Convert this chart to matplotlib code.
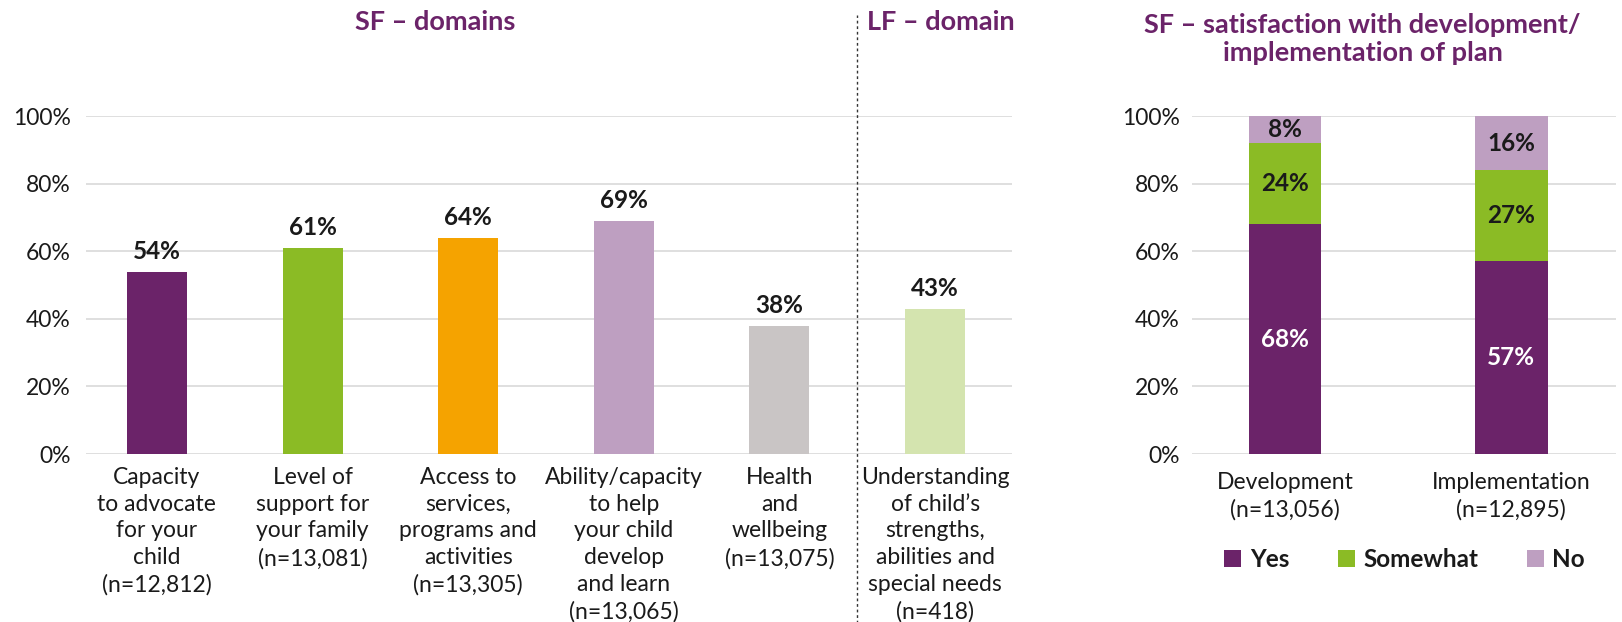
import matplotlib
matplotlib.use("Agg")
import matplotlib.pyplot as plt
from matplotlib.patches import Patch

plt.rcParams["font.family"] = ["Lato", "DejaVu Sans"]

# --- data ---
domain_labels = [
    "Capacity\nto advocate\nfor your\nchild\n(n=12,812)",
    "Level of\nsupport for\nyour family\n(n=13,081)",
    "Access to\nservices,\nprograms and\nactivities\n(n=13,305)",
    "Ability/capacity\nto help\nyour child\ndevelop\nand learn\n(n=13,065)",
    "Health\nand\nwellbeing\n(n=13,075)",
    "Understanding\nof child\u2019s\nstrengths,\nabilities and\nspecial needs\n(n=418)",
]
domain_values = [54, 61, 64, 69, 38, 43]
domain_colors = ["#6b2369", "#8bbb25", "#f5a300", "#be9fc1", "#c9c5c5", "#d4e4af"]

plan_labels = ["Development\n(n=13,056)", "Implementation\n(n=12,895)"]
plan_series = ["Yes", "Somewhat", "No"]
plan_yes = [68, 57]
plan_somewhat = [24, 27]
plan_no = [8, 16]
plan_colors = ["#6b2369", "#8bbb25", "#be9fc1"]

PURPLE = "#6b2369"
TEXT = "#1a1a1a"
GRID = "#d9d9d9"
FS = 16.5      # tick labels
FS_VAL = 17.5  # value labels
FS_TITLE = 19.5


def style_axis(ax, ypad):
    ax.set_ylim(0, 100)
    ax.set_yticks(range(0, 101, 20))
    ax.set_yticklabels([f"{v}%" for v in range(0, 101, 20)])
    ax.yaxis.grid(True, color=GRID, linewidth=1.2)
    ax.set_axisbelow(True)
    for s in ax.spines.values():
        s.set_visible(False)
    ax.tick_params(length=0, labelsize=FS, colors=TEXT)
    ax.tick_params(axis="y", pad=ypad)


fig = plt.figure(figsize=(16.22, 6.22), dpi=100)

# --- venstre: SF / LF domener ---
ax1 = fig.add_axes([0.053, 0.270, 0.571, 0.5434])
style_axis(ax1, ypad=11)
xs = list(range(len(domain_values)))
bars = ax1.bar(xs, domain_values, width=0.386, color=domain_colors)
for b, v in zip(bars, domain_values):
    ax1.text(b.get_x() + b.get_width() / 2, v + 2.5, f"{v}%", ha="center",
             va="bottom", fontsize=FS_VAL, fontweight="bold", color=TEXT)
ax1.set_xlim(-0.456, 5.495)
ax1.set_xticks(xs)
ax1.set_xticklabels(domain_labels, linespacing=1.35, va="top")
ax1.tick_params(axis="x", pad=9)
ax1.axvline(4.5, ymin=-0.51, ymax=1.30, clip_on=False, color="#333333",
            linewidth=1, linestyle=(0, (2, 2)))

fig.text(0.268, 0.965, "SF \u2013 domains", ha="center", va="center",
         fontsize=FS_TITLE, fontweight="bold", color=PURPLE)
fig.text(0.580, 0.965, "LF \u2013 domain", ha="center", va="center",
         fontsize=FS_TITLE, fontweight="bold", color=PURPLE)

# --- høyre: tilfredshet med plan ---
ax2 = fig.add_axes([0.735, 0.270, 0.261, 0.5434])
style_axis(ax2, ypad=9)
px = list(range(len(plan_labels)))
bottom = [0, 0]
for name, vals, col in zip(plan_series, [plan_yes, plan_somewhat, plan_no], plan_colors):
    ax2.bar(px, vals, width=0.32, bottom=bottom, color=col, label=name)
    for x, b0, v in zip(px, bottom, vals):
        tc = "white" if name == "Yes" else TEXT
        ax2.text(x, b0 + v / 2, f"{v}%", ha="center", va="center",
                 fontsize=FS_VAL, fontweight="bold", color=tc)
    bottom = [b0 + v for b0, v in zip(bottom, vals)]
ax2.set_xlim(-0.41, 1.46)
ax2.set_xticks(px)
ax2.set_xticklabels(plan_labels, linespacing=1.35)
ax2.tick_params(axis="x", pad=13)

fig.text(0.840, 0.937, "SF \u2013 satisfaction with development/\nimplementation of plan",
         ha="center", va="center", fontsize=FS_TITLE, fontweight="bold", color=PURPLE,
         linespacing=1.2)

handles = [Patch(facecolor=c, label=n) for n, c in zip(plan_series, plan_colors)]
leg = fig.legend(handles=handles, loc="center", bbox_to_anchor=(0.866, 0.0997),
                 ncol=3, frameon=False, fontsize=FS_VAL, handlelength=0.7,
                 handleheight=0.7, columnspacing=2.0, handletextpad=0.35)
for t in leg.get_texts():
    t.set_fontweight("bold")
    t.set_color(TEXT)

fig.savefig("out.png", dpi=100, facecolor="white")
